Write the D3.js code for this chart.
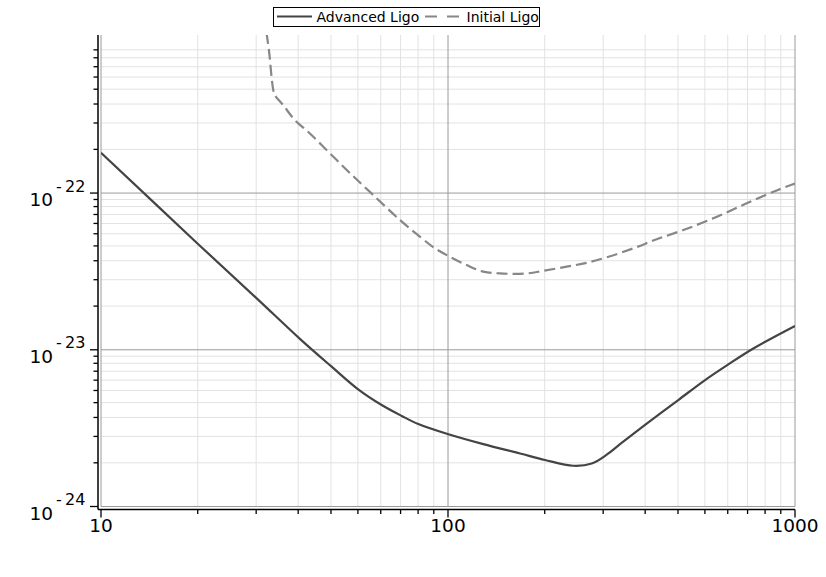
<!doctype html>
<head>
<title>Ligo sensitivity</title>
<style>
  body { margin: 0; background: #fff; }
  text { font-family: "DejaVu Sans", sans-serif; fill: #000; }
</style>
</head>
<body>
<div id="chart"></div>
<script src="https://d3js.org/d3.v7.min.js"></script>
<script type="application/javascript">
// frequency (Hz) and strain
var advFreq = [10, 19.1, 28.1, 37.5, 46.2, 55.1, 64.4, 73.6, 82.1, 100.3, 126.4, 161.3, 190.3, 229.6, 259.5, 286.6, 313.1, 373.8, 461, 550.5, 642.4, 758.4, 1000];
var advStrain = [1.81e-22, 4.70e-23, 2.13e-23, 1.17e-23, 7.8e-24, 5.59e-24, 4.44e-24, 3.78e-24, 3.36e-24, 2.89e-24, 2.50e-24, 2.18e-24, 1.98e-24, 1.82e-24, 1.88e-24, 2.14e-24, 2.50e-24, 3.38e-24, 4.78e-24, 6.41e-24, 8.07e-24, 1.02e-23, 1.42e-23];

var iniFreq = [30.0, 30.55, 31.04, 31.4, 31.7, 33.5, 36.2, 40.0, 45.7, 52.2, 60.9, 72.7, 83.1, 91.7, 101.3, 113.2, 126.4, 141.2, 168.6, 188.2, 219.8, 251, 286.7, 342, 399.4, 476.6, 581.6, 725.8, 885.7, 1000];
var iniStrain = [1.05e-21, 7.78e-22, 5.40e-22, 4.49e-22, 4.22e-22, 3.64e-22, 2.92e-22, 2.40e-22, 1.79e-22, 1.34e-22, 9.71e-23, 6.73e-23, 5.26e-23, 4.44e-23, 3.92e-23, 3.47e-23, 3.15e-23, 3.07e-23, 3.07e-23, 3.19e-23, 3.39e-23, 3.59e-23, 3.89e-23, 4.44e-23, 5.07e-23, 5.81e-23, 6.90e-23, 8.60e-23, 1.04e-22, 1.15e-22];

var seriesNames = ["Advanced Ligo", "Initial Ligo"];
var xMajor = [10, 100, 1000];
var xTickLabels = ["10", "100", "1000"];
var yMajor = [1e-24, 1e-23, 1e-22];
var yExponents = ["24", "23", "22"];
// maple style minor steps inside a decade: 1.9, 2.8 ... 9.1
var minorSteps = [1.9, 2.8, 3.7, 4.6, 5.5, 6.4, 7.3, 8.2, 9.1];

var w = 826, h = 577;
var pLeft = 101, pRight = 795, pTop = 35, pBottom = 506.5;

var x = d3.scaleLog().domain([10, 1000]).range([pLeft, pRight]);
var y = d3.scaleLog().domain([1e-24, 1.02e-21]).range([pBottom, pTop]);

var svg = d3.select("#chart").append("svg").attr("width", w).attr("height", h);

function minors(majors, keep) {
  var out = [];
  majors.forEach(function(m) {
    minorSteps.forEach(function(s) {
      var v = m * s;
      if (keep(v)) out.push(v);
    });
  });
  return out;
}
var xMinor = minors([10, 100], function(v) { return v < 1000; });
var yMinor = minors(yMajor, function(v) { return y(v) > 45; });

// grid
var grid = svg.append("g");
grid.selectAll("line.xm").data(xMinor).enter().append("line")
  .attr("x1", function(d) { return x(d); }).attr("x2", function(d) { return x(d); })
  .attr("y1", pTop).attr("y2", pBottom)
  .attr("stroke", "#e2e2e2").attr("stroke-width", 1);
grid.selectAll("line.ym").data(yMinor).enter().append("line")
  .attr("y1", function(d) { return y(d); }).attr("y2", function(d) { return y(d); })
  .attr("x1", pLeft).attr("x2", pRight)
  .attr("stroke", "#e2e2e2").attr("stroke-width", 1);
grid.selectAll("line.xM").data(xMajor).enter().append("line")
  .attr("x1", function(d) { return x(d); }).attr("x2", function(d) { return x(d); })
  .attr("y1", pTop).attr("y2", pBottom)
  .attr("stroke", "#9a9a9a").attr("stroke-width", 1);
grid.selectAll("line.yM").data(yMajor).enter().append("line")
  .attr("y1", function(d) { return y(d); }).attr("y2", function(d) { return y(d); })
  .attr("x1", pLeft).attr("x2", pRight)
  .attr("stroke", "#9a9a9a").attr("stroke-width", 1);

// curves
svg.append("clipPath").attr("id", "plotclip").append("rect")
  .attr("x", pLeft).attr("y", pTop).attr("width", pRight - pLeft).attr("height", pBottom - pTop);

var line = d3.line()
  .x(function(d) { return x(d[0]); })
  .y(function(d) { return y(d[1]); })
  .curve(d3.curveCatmullRom.alpha(0.5));

var plot = svg.append("g").attr("clip-path", "url(#plotclip)");
plot.append("path").datum(d3.zip(iniFreq, iniStrain))
  .attr("d", line).attr("fill", "none")
  .attr("stroke", "#878787").attr("stroke-width", 2.2).attr("stroke-dasharray", "11,5");
plot.append("path").datum(d3.zip(advFreq, advStrain))
  .attr("d", line).attr("fill", "none")
  .attr("stroke", "#444").attr("stroke-width", 2.2);

// axes
var axisX = 98, axisY = 509.5;
svg.append("line").attr("x1", axisX).attr("x2", axisX).attr("y1", pTop).attr("y2", axisY)
  .attr("stroke", "#000").attr("stroke-width", 1.5);
svg.append("line").attr("x1", axisX).attr("x2", pRight).attr("y1", axisY).attr("y2", axisY)
  .attr("stroke", "#000").attr("stroke-width", 1.5);

svg.selectAll("line.xt").data(xMajor.concat(xMinor)).enter().append("line")
  .attr("x1", function(d) { return x(d); }).attr("x2", function(d) { return x(d); })
  .attr("y1", axisY).attr("y2", function(d) { return axisY + (xMajor.indexOf(d) >= 0 ? 8 : 4.5); })
  .attr("stroke", "#000").attr("stroke-width", 1.3);
svg.selectAll("line.yt").data(yMajor.concat(yMinor)).enter().append("line")
  .attr("y1", function(d) { return y(d); }).attr("y2", function(d) { return y(d); })
  .attr("x1", axisX).attr("x2", function(d) { return axisX - (yMajor.indexOf(d) >= 0 ? 8 : 4.5); })
  .attr("stroke", "#000").attr("stroke-width", 1.3);

svg.selectAll("text.xl").data(xMajor).enter().append("text")
  .attr("x", function(d) { return x(d); }).attr("y", 532)
  .attr("text-anchor", "middle").attr("font-size", "18.5px")
  .text(function(d, i) { return xTickLabels[i]; });

var ylab = svg.selectAll("g.yl").data(yMajor).enter().append("g")
  .attr("transform", function(d) { return "translate(0," + y(d) + ")"; });
ylab.append("text").attr("x", 53).attr("y", 13).attr("text-anchor", "end")
  .attr("font-size", "18.5px").text("10");
ylab.append("text").attr("x", 56).attr("y", -1.5).attr("font-size", "16px")
  .text("-");
ylab.append("text").attr("x", 65).attr("y", -1.5).attr("font-size", "16px")
  .text(function(d, i) { return yExponents[i]; });

// legend
var lg = svg.append("g");
lg.append("rect").attr("x", 273.5).attr("y", 7.5).attr("width", 266).attr("height", 19)
  .attr("fill", "#fff").attr("stroke", "#000").attr("stroke-width", 1);
lg.append("line").attr("x1", 277).attr("x2", 312).attr("y1", 16.5).attr("y2", 16.5)
  .attr("stroke", "#444").attr("stroke-width", 2);
lg.append("text").attr("x", 316.5).attr("y", 22).attr("font-size", "14px").text(seriesNames[0]);
lg.append("line").attr("x1", 425).attr("x2", 460).attr("y1", 16.5).attr("y2", 16.5)
  .attr("stroke", "#878787").attr("stroke-width", 2).attr("stroke-dasharray", "12,10");
lg.append("text").attr("x", 466.5).attr("y", 22).attr("font-size", "14px").text(seriesNames[1]);
</script>
</body>
</html>
